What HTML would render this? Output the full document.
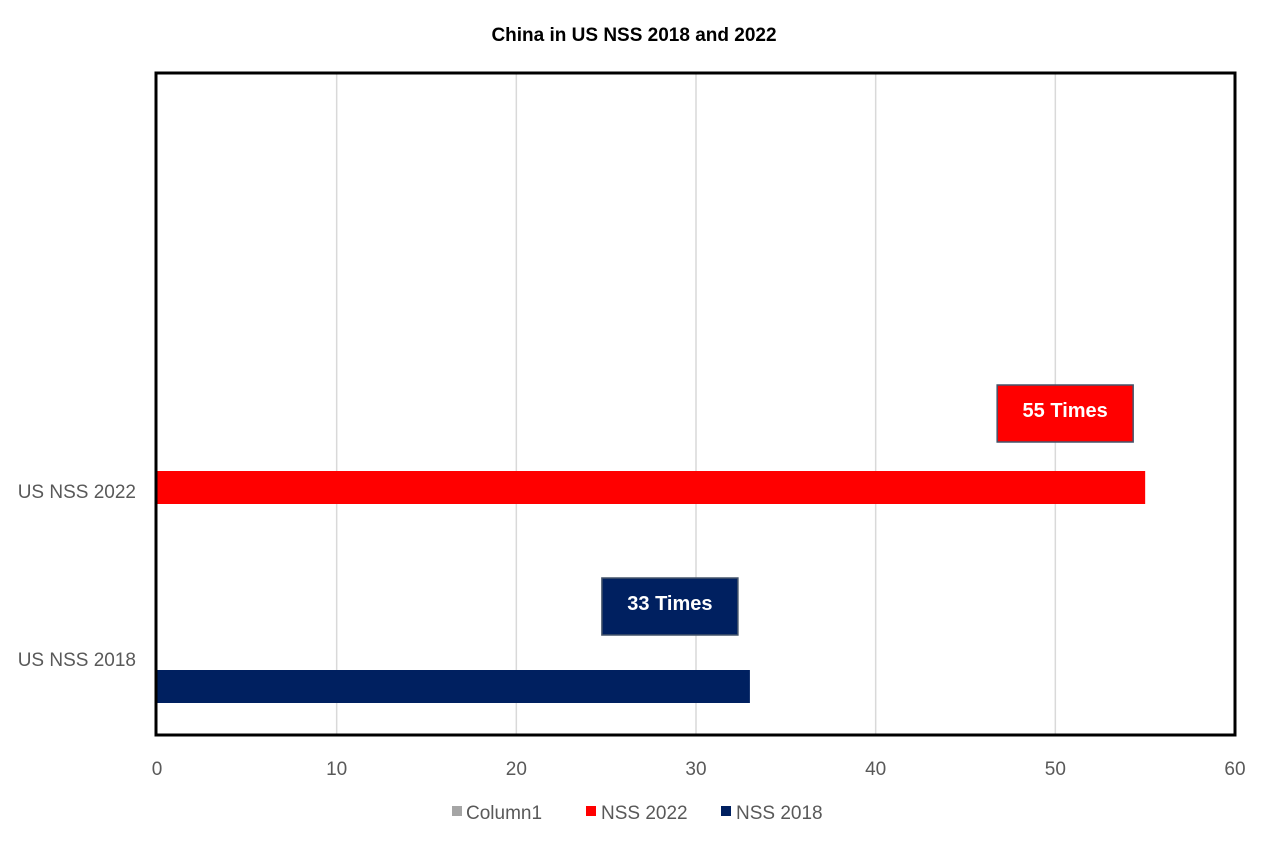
<!DOCTYPE html>
<html><head><meta charset="utf-8"><style>
body{margin:0;background:#fff;}
svg{display:block;font-family:"Liberation Sans",Arial,sans-serif;}
</style></head><body>
<svg id="chart" width="1268" height="845">
<text x="634" y="41" text-anchor="middle" font-size="19" font-weight="bold" fill="#000">China in US NSS 2018 and 2022</text>
<g id="grid"></g>
<g id="bars"></g>
<rect x="156" y="73" width="1079" height="662" fill="none" stroke="#000" stroke-width="3"/>
<g id="ticks"></g>
<g id="legend">
<rect x="452" y="806" width="10" height="10" fill="#a5a5a5"/>
<text x="466" y="819" font-size="19" fill="#595959">Column1</text>
<rect x="586" y="806" width="10" height="10" fill="#ff0000"/>
<text x="601" y="819" font-size="19" fill="#595959">NSS 2022</text>
<rect x="721" y="806" width="10" height="10" fill="#002060"/>
<text x="736" y="819" font-size="19" fill="#595959">NSS 2018</text>
</g>
</svg>
<script>
const categories = ["US NSS 2022", "US NSS 2018"];
const values = [55, 33];
const labels = ["55 Times", "33 Times"];
const colors = ["#ff0000", "#002060"];
const ticks = [0, 10, 20, 30, 40, 50, 60];
const NS = "http://www.w3.org/2000/svg";
const x0 = 157, x1 = 1235, xmax = 60;
const xs = v => x0 + (v / xmax) * (x1 - x0);
const barY = [471, 670], labelY = [491, 659], boxY = [385, 578];
function mk(tag, attrs, parent) { const e = document.createElementNS(NS, tag); for (const k in attrs) e.setAttribute(k, attrs[k]); parent.appendChild(e); return e; }
const grid = document.getElementById("grid"), tg = document.getElementById("ticks"), bars = document.getElementById("bars");
ticks.forEach(t => {
  if (t > 0 && t < xmax) {
    const l = mk("line", { x1: xs(t), x2: xs(t), y1: 73, y2: 735, stroke: "#d9d9d9", "stroke-width": 1.5 }, grid);
    
    
  }
  const tx = mk("text", { x: xs(t), y: 775, "text-anchor": "middle", "font-size": 19, fill: "#595959" }, tg);
  tx.textContent = t;
  
  
});
categories.forEach((c, i) => {
  const r = mk("rect", { x: x0, y: barY[i], width: xs(values[i]) - x0, height: 33, fill: colors[i] }, bars);
  
  
  const ct = mk("text", { x: 136, y: labelY[i] + 7, "text-anchor": "end", "font-size": 19, fill: "#595959" }, tg);
  ct.textContent = c;
  
  
  const bx = xs(values[i]) - 148;
  const b = mk("rect", { x: bx, y: boxY[i], width: 136, height: 57, fill: colors[i], stroke: "#44546a", "stroke-width": 1.5 }, bars);
  
  
  const lt = mk("text", { x: bx + 68, y: boxY[i] + 32, "text-anchor": "middle", "font-size": 20, "font-weight": "bold", fill: "#fff" }, bars);
  lt.textContent = labels[i];
  
  
});
</script>
</body></html>
